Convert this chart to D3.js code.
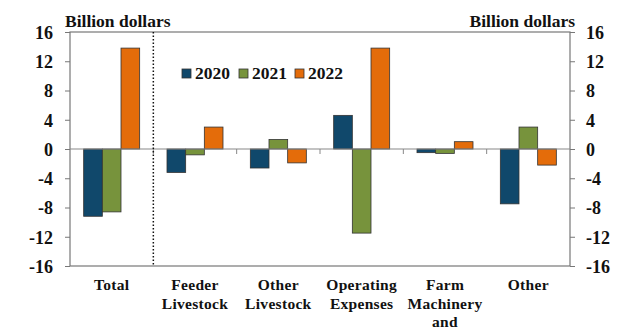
<!DOCTYPE html>
<html>
<head>
<meta charset="utf-8">
<script src="https://cdn.jsdelivr.net/npm/d3@7"></script>
<style>
  body { margin: 0; background: #fff; }
</style>
</head>
<body>
<div id="chart"></div>
<script>
// chart data
var categories = ["Total", "Feeder Livestock", "Other Livestock", "Operating Expenses", "Farm Machinery and", "Other"];
var catLines = [["Total"], ["Feeder", "Livestock"], ["Other", "Livestock"], ["Operating", "Expenses"], ["Farm", "Machinery", "and"], ["Other"]];
var years = ["2020", "2021", "2022"];
var v2020 = [-9.2, -3.2, -2.6, 4.6, -0.5, -7.5];
var v2021 = [-8.6, -0.8, 1.3, -11.5, -0.6, 3.0];
var v2022 = [13.8, 3.0, -1.9, 13.8, 1.0, -2.2];
var yTicks = [-16, -12, -8, -4, 0, 4, 8, 12, 16];
var colors = ["#10486b", "#77933c", "#e46c0a"];

var width = 640, height = 336;
var margin = { left: 70, right: 70, top: 32, bottom: 70 };
var serif = "'Times New Roman', 'Liberation Serif', serif";

var svg = d3.select("#chart").append("svg")
  .attr("width", width)
  .attr("height", height);

var x = d3.scaleBand()
  .domain(categories)
  .range([margin.left, width - margin.right]);

var xInner = d3.scaleBand()
  .domain(years)
  .range([0, 56]);

var y = d3.scaleLinear()
  .domain([-16, 16])
  .range([height - margin.bottom, margin.top]);

var series = [v2020, v2021, v2022];

// bars
series.forEach(function(vals, i) {
  svg.append("g").selectAll("rect")
    .data(vals)
    .enter()
    .append("rect")
      .attr("x", function(d, j) { return x(categories[j]) + x.bandwidth() / 2 - 28 + xInner(years[i]); })
      .attr("width", xInner.bandwidth())
      .attr("y", function(d) { return y(Math.max(0, d)); })
      .attr("height", function(d) { return Math.abs(y(d) - y(0)); })
      .attr("fill", colors[i])
      .attr("stroke", "#333")
      .attr("stroke-width", 0.8);
});

// frame
svg.append("rect")
  .attr("x", margin.left)
  .attr("y", margin.top)
  .attr("width", width - margin.left - margin.right)
  .attr("height", height - margin.top - margin.bottom)
  .attr("fill", "none")
  .attr("stroke", "#777")
  .attr("stroke-width", 1.2);

// zero line
svg.append("line")
  .attr("x1", margin.left).attr("x2", width - margin.right)
  .attr("y1", y(0)).attr("y2", y(0))
  .attr("stroke", "#888").attr("stroke-width", 1.2);

// category ticks on zero line
svg.append("g").selectAll("line")
  .data(categories.slice(1))
  .enter()
  .append("line")
    .attr("x1", function(d) { return x(d); })
    .attr("x2", function(d) { return x(d); })
    .attr("y1", y(0))
    .attr("y2", y(0) + 5)
    .attr("stroke", "#888");

// dotted separator after Total
svg.append("line")
  .attr("x1", x(categories[1])).attr("x2", x(categories[1]))
  .attr("y1", margin.top).attr("y2", height - margin.bottom)
  .attr("stroke", "#111")
  .attr("stroke-width", 1.5)
  .attr("stroke-dasharray", "1.5,2");

// y axes (hyphen minus like the original)
var fmt = function(d) { return String(d); };
var leftAxis = d3.axisLeft(y).tickValues(yTicks).tickSize(5).tickPadding(12).tickFormat(fmt);
var rightAxis = d3.axisRight(y).tickValues(yTicks).tickSize(5).tickPadding(11).tickFormat(fmt);

function styleAxis(g) {
  g.attr("font-family", null).attr("font-size", null);
  g.select(".domain").remove();
  g.selectAll("line").attr("stroke", "#777");
  g.selectAll("text").style("font-size", "18px").attr("dy", "0.35em");
}

svg.append("g")
  .attr("transform", "translate(" + margin.left + ",0)")
  .call(leftAxis)
  .call(styleAxis);

svg.append("g")
  .attr("transform", "translate(" + (width - margin.right) + ",0)")
  .call(rightAxis)
  .call(styleAxis);

// axis titles
svg.append("text")
  .attr("x", 65).attr("y", 27)
  .style("font-size", "17.5px")
  .text("Billion dollars");

svg.append("text")
  .attr("x", 575).attr("y", 27)
  .attr("text-anchor", "end")
  .style("font-size", "17.5px")
  .text("Billion dollars");

// category labels
var labels = svg.append("g").selectAll("text")
  .data(categories)
  .enter()
  .append("text")
    .attr("text-anchor", "middle")
    .style("font-size", "15.5px")
    .style("letter-spacing", "0.3px");

labels.each(function(d, j) {
  var t = d3.select(this);
  catLines[j].forEach(function(line, k) {
    t.append("tspan")
      .attr("x", x(d) + x.bandwidth() / 2)
      .attr("y", 290 + k * 18.5)
      .text(line);
  });
});

// legend
var legendX = [182, 239, 295];
var legend = svg.append("g").selectAll("g")
  .data(years)
  .enter()
  .append("g")
    .attr("transform", function(d, i) { return "translate(" + legendX[i] + ",69)"; });

legend.append("rect")
  .attr("width", 9).attr("height", 9)
  .attr("fill", function(d, i) { return colors[i]; })
  .attr("stroke", "#333").attr("stroke-width", 0.8);

legend.append("text")
  .attr("x", 13).attr("y", 9.5)
  .style("font-size", "17.5px")
  .text(function(d) { return d; });

// all text in bold serif
svg.selectAll("text")
  .style("font-family", serif)
  .style("font-weight", "bold")
  .style("fill", "#111");
</script>
</body>
</html>
